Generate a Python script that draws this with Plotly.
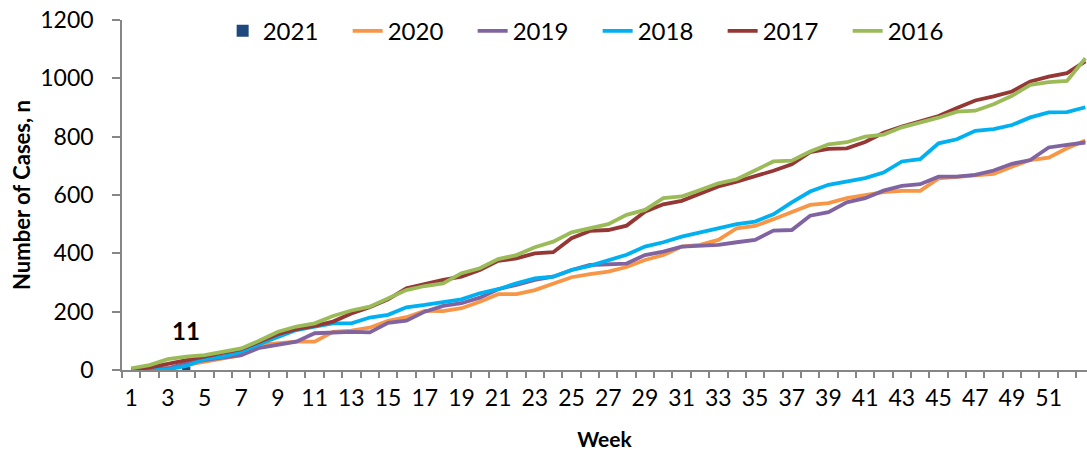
import plotly.graph_objects as go

weeks = list(range(1, 54))

cases_2016 = [6, 17, 37, 46, 51, 61, 74, 101, 131, 149, 160, 185, 204, 217,
              246, 274, 288, 297, 332, 349, 380, 394, 421, 440, 472, 486, 500, 532,
              549, 589, 595, 617, 640, 654, 683, 715, 718, 749, 774, 781, 800, 807,
              832, 848, 865, 886, 889, 911, 940, 978, 987, 991, 1069]
cases_2017 = [2, 8, 21, 34, 49, 59, 71, 97, 123, 140, 151, 166, 194, 215,
              242, 280, 295, 309, 320, 343, 374, 383, 400, 404, 452, 477, 480, 495,
              543, 568, 580, 603, 629, 646, 663, 683, 705, 747, 758, 760, 782, 813,
              835, 852, 871, 898, 924, 938, 955, 989, 1006, 1018, 1058]
cases_2018 = [0, 0, 2, 14, 37, 46, 63, 89, 114, 137, 149, 160, 160, 180,
              189, 215, 223, 231, 242, 263, 277, 297, 314, 320, 343, 357, 377, 395,
              423, 438, 457, 472, 488, 500, 509, 534, 575, 612, 635, 646, 658, 677,
              715, 723, 777, 791, 820, 826, 840, 866, 883, 884, 901]
cases_2019 = [0, 0, 6, 23, 34, 42, 51, 76, 86, 97, 126, 128, 131, 129,
              162, 169, 200, 220, 229, 248, 277, 292, 309, 320, 343, 360, 364, 365,
              394, 406, 423, 425, 429, 438, 446, 478, 480, 529, 541, 575, 589, 615,
              631, 637, 663, 663, 669, 684, 707, 720, 763, 772, 780]
cases_2020 = [0, 0, 6, 17, 29, 40, 51, 86, 91, 97, 97, 131, 135, 145,
              169, 181, 203, 202, 212, 234, 260, 260, 274, 297, 318, 329, 337, 353,
              377, 394, 423, 429, 446, 486, 494, 517, 543, 566, 572, 589, 600, 610,
              614, 614, 657, 663, 666, 672, 697, 720, 728, 760, 787]
weeks_2021 = [4]
cases_2021 = [11]

x_tick_vals = list(range(1, 52, 2))
x_tick_text = [str(v) for v in x_tick_vals]
y_tick_vals = [0, 200, 400, 600, 800, 1000, 1200]

FONT = "Lato, Carlito, Calibri, sans-serif"
AXIS = "#868686"

fig = go.Figure()
fig.add_trace(go.Bar(x=weeks_2021, y=cases_2021, name="2021",
                     marker=dict(color="#1F497D", line=dict(width=0)), width=0.45))

series = [("2020", cases_2020, "#F79646"),
          ("2019", cases_2019, "#8064A2"),
          ("2018", cases_2018, "#00B0F0"),
          ("2017", cases_2017, "#953735"),
          ("2016", cases_2016, "#9BBB59")]
for name, vals, col in series:
    fig.add_trace(go.Scatter(x=weeks, y=vals, name=name, mode="lines",
                             line=dict(color=col, width=3.8)))

fig.add_annotation(x=weeks_2021[0], y=cases_2021[0], text="<b>%d</b>" % cases_2021[0],
                   showarrow=False, yshift=36, font=dict(size=24, color="black", family=FONT))

fig.update_layout(
    width=1087, height=453,
    margin=dict(l=122, r=0, t=20, b=83, autoexpand=False),
    paper_bgcolor="white", plot_bgcolor="white",
    font=dict(family=FONT, size=23, color="black"),
    showlegend=True,
    legend=dict(orientation="h", x=0.1043, xanchor="left", y=0.968, yanchor="middle",
                bgcolor="rgba(0,0,0,0)", font=dict(size=24),
                entrywidth=80, entrywidthmode="pixels", traceorder="normal"),
)
fig.update_xaxes(range=[0.5, 53.09], tickmode="array", tickvals=x_tick_vals, ticktext=x_tick_text,
                 ticks="outside", ticklen=0, ticklabelstandoff=7, automargin=False,
                 ticklabeloverflow="allow",
                 showline=True, linecolor=AXIS, linewidth=1.5, showgrid=False, zeroline=False,
                 minor=dict(tick0=0.5, dtick=1, ticks="outside", ticklen=6, tickcolor=AXIS, tickwidth=1.5, showgrid=False),
                 title=dict(text="<b>Week</b>", font=dict(size=21), standoff=22))
fig.update_yaxes(range=[0, 1200], tickmode="array", tickvals=y_tick_vals, automargin=False,
                 ticklabeloverflow="allow",
                 ticks="outside", ticklen=8, tickcolor=AXIS, tickwidth=1.5, ticklabelstandoff=14,
                 showline=True, linecolor=AXIS, linewidth=1.5, showgrid=False, zeroline=False,
                 title=dict(text="<b>Number of Cases, n</b>", font=dict(size=22), standoff=4))

# remove the browser's default 8px body margin so the figure sits at the page origin
fig.write_html("out.html", config={"displayModeBar": False},
               post_script="document.body.style.margin='0';document.body.style.overflow='hidden';")
